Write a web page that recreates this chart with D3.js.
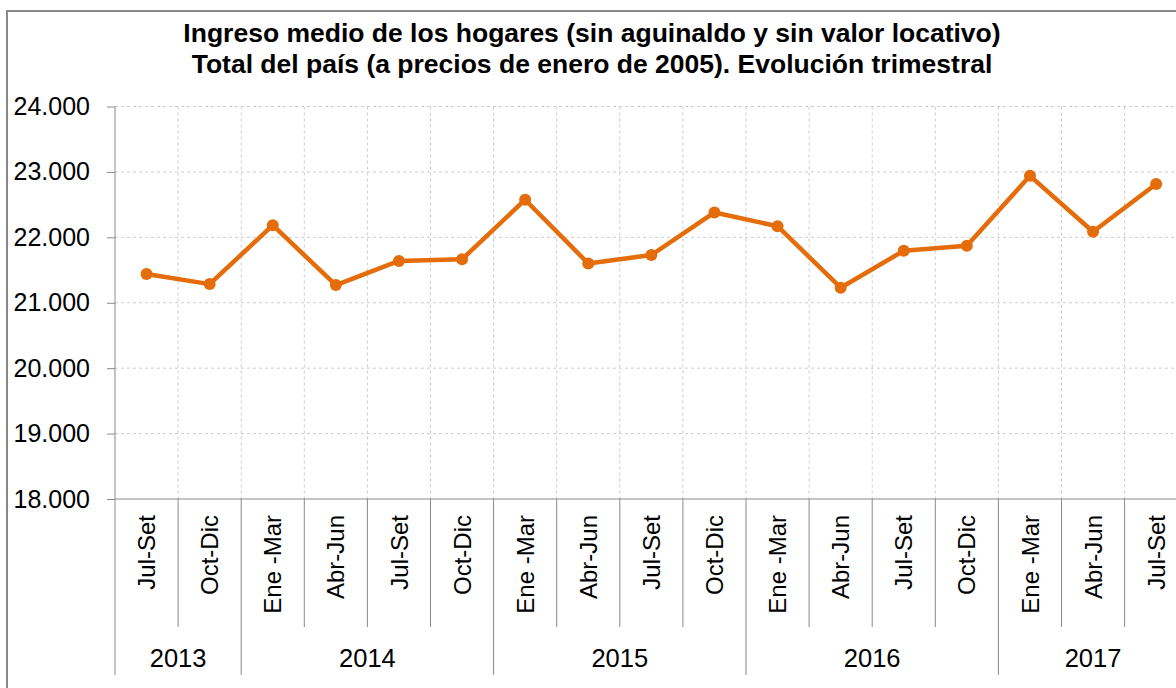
<!DOCTYPE html>
<html>
<head>
<meta charset="utf-8">
<script src="https://cdn.jsdelivr.net/npm/d3@7"></script>
<style>
  body { margin: 0; background: #fff; }
  text { font-family: "Liberation Sans", Arial, sans-serif; fill: #000; }
</style>
</head>
<body>
<div id="chart"></div>
<script>
// quarters shown on the x axis, with the year each one belongs to
const quarters = ["Jul-Set", "Oct-Dic", "Ene -Mar", "Abr-Jun", "Jul-Set", "Oct-Dic",
  "Ene -Mar", "Abr-Jun", "Jul-Set", "Oct-Dic", "Ene -Mar", "Abr-Jun", "Jul-Set", "Oct-Dic",
  "Ene -Mar", "Abr-Jun", "Jul-Set"];
const years = [2013, 2013, 2014, 2014, 2014, 2014, 2015, 2015, 2015, 2015,
  2016, 2016, 2016, 2016, 2017, 2017, 2017];
// ingreso medio de los hogares (pesos de enero 2005)
const ingreso = [21440, 21285, 22185, 21270, 21640, 21665, 22575, 21600, 21730, 22380,
  22170, 21230, 21795, 21870, 22940, 22085, 22815];
const yTicks = [18000, 19000, 20000, 21000, 22000, 23000, 24000];
const titleLines = ["Ingreso medio de los hogares (sin aguinaldo y sin valor locativo)",
  "Total del país (a precios de enero de 2005). Evolución trimestral"];

const width = 1176, height = 688;
const plotLeft = 115, plotTop = 106.5, plotBottom = 499, band = 63.1;
const orange = "#e46c0a", axisGrey = "#898989", gridGrey = "#cdcdcd";

const svg = d3.select("#chart").append("svg")
  .attr("xmlns", "http://www.w3.org/2000/svg")
  .attr("width", width)
  .attr("height", height);

// chart frame
svg.append("rect")
  .attr("x", 7).attr("y", 11)
  .attr("width", 1200).attr("height", 720)
  .attr("fill", "#fff")
  .attr("stroke", axisGrey)
  .attr("stroke-width", 2);

// title
svg.append("g").selectAll("text")
  .data(titleLines)
  .enter().append("text")
  .attr("x", 592)
  .attr("y", (d, i) => 42 + i * 31)
  .attr("text-anchor", "middle")
  .style("font-size", "26.5px")
  .style("font-weight", "bold")
  .text(d => d);

const idx = d3.range(quarters.length);
const x = d3.scaleBand().domain(idx).range([plotLeft, plotLeft + band * quarters.length]);
const y = d3.scaleLinear().domain([18000, 24000]).range([plotBottom, plotTop]);

const locale = d3.formatLocale({ decimal: ",", thousands: ".", grouping: [3], currency: ["", ""] });
const fmt = locale.format(",.0f");

// grid
const grid = svg.append("g");
grid.selectAll("line.h")
  .data(yTicks.slice(1))
  .enter().append("line")
  .attr("x1", plotLeft).attr("x2", width + 20)
  .attr("y1", d => y(d)).attr("y2", d => y(d))
  .attr("stroke", gridGrey)
  .attr("stroke-dasharray", "3,3");
grid.selectAll("line.v")
  .data(idx.slice(1))
  .enter().append("line")
  .attr("x1", d => x(d)).attr("x2", d => x(d))
  .attr("y1", plotTop).attr("y2", plotBottom)
  .attr("stroke", gridGrey)
  .attr("stroke-dasharray", "3,3");

// y axis
const yAxis = svg.append("g")
  .attr("transform", "translate(" + plotLeft + ",0)")
  .call(d3.axisLeft(y).tickValues(yTicks).tickFormat(fmt).tickSize(8).tickPadding(17));
yAxis.select(".domain").remove();
yAxis.selectAll("line").attr("stroke", axisGrey);
yAxis.selectAll("text")
  .style("font-size", "25px")
  .style("font-family", "'Liberation Sans', Arial, sans-serif")
  .attr("fill", "#111");

// axis lines
svg.append("line")
  .attr("x1", plotLeft).attr("x2", plotLeft)
  .attr("y1", plotTop).attr("y2", 675)
  .attr("stroke", axisGrey);
svg.append("line")
  .attr("x1", plotLeft).attr("x2", width + 20)
  .attr("y1", plotBottom).attr("y2", plotBottom)
  .attr("stroke", axisGrey);

// category separators: short ones between quarters, long ones between years
svg.append("g").selectAll("line")
  .data(idx.slice(1))
  .enter().append("line")
  .attr("x1", d => x(d)).attr("x2", d => x(d))
  .attr("y1", plotBottom)
  .attr("y2", d => years[d] !== years[d - 1] ? 675 : 627)
  .attr("stroke", axisGrey);

// quarter labels, rotated
svg.append("g").selectAll("text")
  .data(idx)
  .enter().append("text")
  .attr("transform", d => "translate(" + (x(d) + x.bandwidth() / 2) + ",515) rotate(-90)")
  .attr("dy", "0.36em")
  .attr("text-anchor", "end")
  .style("font-size", "24px")
  .text(d => quarters[d]);

// year labels
const yearGroups = d3.groups(idx, d => years[d]);
svg.append("g").selectAll("text")
  .data(yearGroups)
  .enter().append("text")
  .attr("x", g => (x(g[1][0]) + x(g[1][g[1].length - 1]) + x.bandwidth()) / 2)
  .attr("y", 667)
  .attr("text-anchor", "middle")
  .style("font-size", "25.5px")
  .text(g => g[0]);

// series
const line = d3.line()
  .x(d => x(d) + x.bandwidth() / 2)
  .y(d => y(ingreso[d]));
svg.append("path")
  .datum(idx)
  .attr("d", line)
  .attr("fill", "none")
  .attr("stroke", orange)
  .attr("stroke-width", 4.5)
  .attr("stroke-linejoin", "round");
svg.append("g").selectAll("circle")
  .data(idx)
  .enter().append("circle")
  .attr("cx", d => x(d) + x.bandwidth() / 2)
  .attr("cy", d => y(ingreso[d]))
  .attr("r", 6)
  .attr("fill", orange);
</script>
</body>
</html>
